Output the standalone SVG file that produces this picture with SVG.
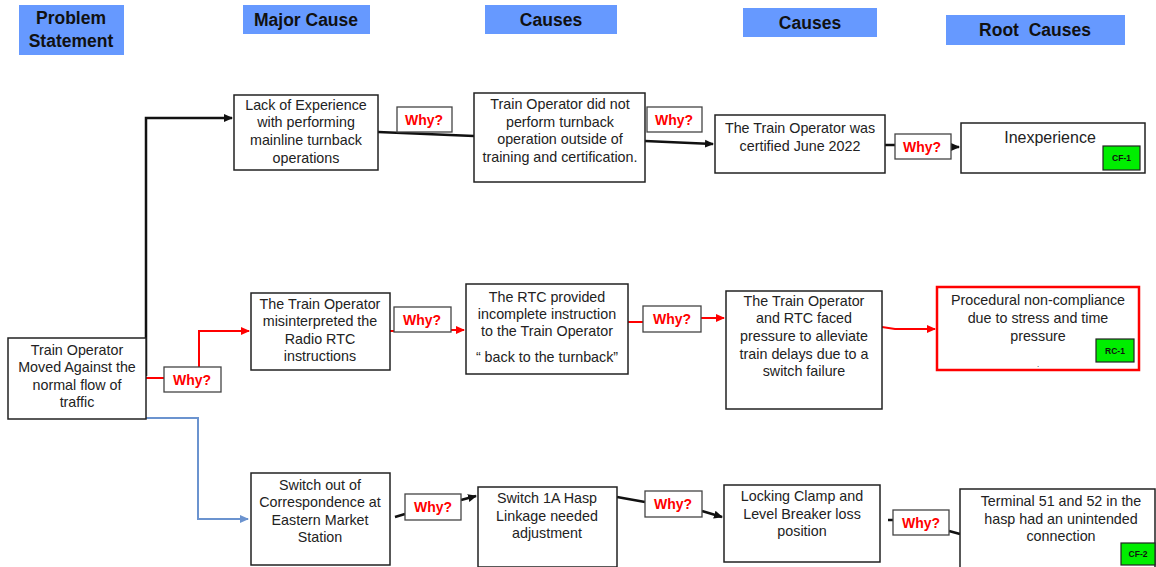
<svg xmlns="http://www.w3.org/2000/svg" width="1156" height="567" viewBox="0 0 1156 567">
  <style>
    .hdr { fill: #6699ff; }
    .hdr-t { font-family: "Liberation Sans", Arial, sans-serif; font-weight: bold; font-size: 17.5px; fill: #111; text-anchor: middle; }
    .box { fill: #fff; stroke: #222; stroke-width: 1.5; }
    .t { font-family: "Liberation Sans", Arial, sans-serif; font-size: 14.3px; fill: #222; text-anchor: middle; }
    .why { fill: #fff; stroke: #444; stroke-width: 1.3; }
    .why-t { font-family: "Liberation Sans", Arial, sans-serif; font-weight: bold; font-size: 14px; fill: #ff0000; text-anchor: middle; }
    .badge { fill: #00ee00; stroke: #222; stroke-width: 1.2; }
    .badge-t { font-family: "Liberation Sans", Arial, sans-serif; font-weight: bold; font-size: 8.5px; fill: #111; text-anchor: middle; }
    .blk { fill: none; stroke: #111; stroke-width: 2.5; }
    .red { fill: none; stroke: #ff0000; stroke-width: 2; }
    .blu { fill: none; stroke: #6b93cf; stroke-width: 2; }
  </style>
  <defs>
    <marker id="ah-blk" markerUnits="userSpaceOnUse" markerWidth="10" markerHeight="10" refX="8" refY="5" orient="auto">
      <path d="M0,1 L9,5 L0,9 Z" fill="#111"/>
    </marker>
    <marker id="ah-red" markerUnits="userSpaceOnUse" markerWidth="10" markerHeight="10" refX="8" refY="5" orient="auto">
      <path d="M0,1 L9,5 L0,9 Z" fill="#ff0000"/>
    </marker>
    <marker id="ah-blu" markerUnits="userSpaceOnUse" markerWidth="10" markerHeight="10" refX="8" refY="5" orient="auto">
      <path d="M0,1 L9,5 L0,9 Z" fill="#6b93cf"/>
    </marker>
  </defs>

  <!-- column headers -->
  <g id="headers">
    <rect class="hdr" x="19" y="5" width="105" height="50"/>
    <text class="hdr-t" x="71" y="24">Problem</text>
    <text class="hdr-t" x="71" y="47">Statement</text>
    <rect class="hdr" x="243" y="5" width="127" height="29"/>
    <text class="hdr-t" x="306" y="26">Major Cause</text>
    <rect class="hdr" x="485" y="5" width="132" height="29"/>
    <text class="hdr-t" x="551" y="26">Causes</text>
    <rect class="hdr" x="743" y="8" width="134" height="29"/>
    <text class="hdr-t" x="810" y="29">Causes</text>
    <rect class="hdr" x="946" y="15" width="179" height="30"/>
    <text class="hdr-t" x="1035" y="36" xml:space="preserve">Root  Causes</text>
  </g>

  <!-- connectors -->
  <g id="connectors">
    <path class="blk" d="M146,376 V118 H232" marker-end="url(#ah-blk)"/>
    <path class="blk" d="M378,132 L474,136"/>
    <path class="blk" d="M645,141 L713,144" marker-end="url(#ah-blk)"/>
    <path class="blk" d="M885,145 H896"/>
    <path class="blk" d="M952,147 H959" marker-end="url(#ah-blk)"/>

    <path class="red" d="M146,378 H164"/>
    <path class="red" d="M199,367 V331 H249" marker-end="url(#ah-red)"/>
    <path class="red" d="M390,331 H394"/>
    <path class="red" d="M451,330 H464" marker-end="url(#ah-red)"/>
    <path class="red" d="M628,322 H643"/>
    <path class="red" d="M701,318 H724" marker-end="url(#ah-red)"/>
    <path class="red" d="M882,327 L895,329 H935" marker-end="url(#ah-red)"/>

    <path class="blu" d="M146,418 H198 V519 H248" marker-end="url(#ah-blu)"/>

    <path class="blk" d="M395,517 L405,514"/>
    <path class="blk" d="M461,500 L476,496" marker-end="url(#ah-blk)"/>
    <path class="blk" d="M617,497 L645,502"/>
    <path class="blk" d="M702,511 L722,517" marker-end="url(#ah-blk)"/>
    <path class="blk" d="M888,520 H893"/>
    <path class="blk" d="M949,531 L960,534"/>
  </g>

  <!-- problem statement -->
  <g id="problem">
    <rect class="box" x="8" y="338" width="138" height="81"/>
    <text class="t" x="77" y="355">Train Operator</text>
    <text class="t" x="77" y="372">Moved Against the</text>
    <text class="t" x="77" y="390">normal flow of</text>
    <text class="t" x="77" y="407">traffic</text>
  </g>

  <!-- top chain -->
  <g id="lack-experience">
    <rect class="box" x="234" y="95" width="144" height="75"/>
    <text class="t" x="306" y="110">Lack of Experience</text>
    <text class="t" x="306" y="127">with performing</text>
    <text class="t" x="306" y="145">mainline turnback</text>
    <text class="t" x="306" y="163">operations</text>
  </g>
  <g id="why-1">
    <rect class="why" x="397" y="107" width="55" height="25"/>
    <text class="why-t" x="424" y="125">Why?</text>
  </g>
  <g id="no-turnback">
    <rect class="box" x="474" y="93" width="171" height="89"/>
    <text class="t" x="560" y="109">Train Operator did not</text>
    <text class="t" x="560" y="127">perform turnback</text>
    <text class="t" x="560" y="144">operation outside of</text>
    <text class="t" x="560" y="162">training and certification.</text>
  </g>
  <g id="why-2">
    <rect class="why" x="647" y="107" width="55" height="25"/>
    <text class="why-t" x="674" y="125">Why?</text>
  </g>
  <g id="certified">
    <rect class="box" x="715" y="115" width="170" height="58"/>
    <text class="t" x="800" y="133">The Train Operator was</text>
    <text class="t" x="800" y="151">certified June 2022</text>
  </g>
  <g id="why-3">
    <rect class="why" x="895" y="134" width="56" height="25"/>
    <text class="why-t" x="922" y="152">Why?</text>
  </g>
  <g id="inexperience">
    <rect class="box" x="961" y="123" width="184" height="50"/>
    <text class="t" x="1050" y="143" style="font-size:16px">Inexperience</text>
    <rect class="badge" x="1103" y="146" width="37" height="24"/>
    <text class="badge-t" x="1121.5" y="161">CF-1</text>
  </g>

  <!-- middle chain -->
  <g id="why-4">
    <rect class="why" x="164" y="367" width="57" height="25"/>
    <text class="why-t" x="192" y="385">Why?</text>
  </g>
  <g id="misinterpreted">
    <rect class="box" x="251" y="293" width="139" height="77"/>
    <text class="t" x="320" y="309">The Train Operator</text>
    <text class="t" x="320" y="326">misinterpreted the</text>
    <text class="t" x="320" y="344">Radio RTC</text>
    <text class="t" x="320" y="361">instructions</text>
  </g>
  <g id="why-5">
    <rect class="why" x="394" y="307" width="57" height="25"/>
    <text class="why-t" x="422" y="325">Why?</text>
  </g>
  <g id="incomplete-instruction">
    <rect class="box" x="466" y="284" width="162" height="90"/>
    <text class="t" x="547" y="302">The RTC provided</text>
    <text class="t" x="547" y="319">incomplete instruction</text>
    <text class="t" x="547" y="336">to the Train Operator</text>
    <text class="t" x="547" y="362">“ back to the turnback”</text>
  </g>
  <g id="why-6">
    <rect class="why" x="643" y="306" width="58" height="26"/>
    <text class="why-t" x="672" y="324">Why?</text>
  </g>
  <g id="time-pressure">
    <rect class="box" x="726" y="291" width="156" height="118"/>
    <text class="t" x="804" y="306">The Train Operator</text>
    <text class="t" x="804" y="323">and RTC faced</text>
    <text class="t" x="804" y="341">pressure to alleviate</text>
    <text class="t" x="804" y="359">train delays due to a</text>
    <text class="t" x="804" y="376">switch failure</text>
  </g>
  <g id="non-compliance">
    <rect x="937" y="287" width="202" height="83" fill="#fff" stroke="#ff0000" stroke-width="2.5"/>
    <text class="t" x="1038" y="305">Procedural non-compliance</text>
    <text class="t" x="1038" y="323">due to stress and time</text>
    <text class="t" x="1038" y="341">pressure</text>
    <text class="t" x="1038" y="367" style="font-size:8px">.</text>
    <rect class="badge" x="1096" y="339" width="38" height="23"/>
    <text class="badge-t" x="1115" y="354">RC-1</text>
  </g>

  <!-- bottom chain -->
  <g id="switch-correspondence">
    <rect class="box" x="251" y="473" width="139" height="92"/>
    <text class="t" x="320" y="490">Switch out of</text>
    <text class="t" x="320" y="507">Correspondence at</text>
    <text class="t" x="320" y="525">Eastern Market</text>
    <text class="t" x="320" y="542">Station</text>
  </g>
  <g id="why-7">
    <rect class="why" x="405" y="494" width="56" height="26"/>
    <text class="why-t" x="433" y="512">Why?</text>
  </g>
  <g id="hasp-linkage">
    <rect class="box" x="478" y="487" width="139" height="80"/>
    <text class="t" x="547" y="503">Switch 1A Hasp</text>
    <text class="t" x="547" y="521">Linkage needed</text>
    <text class="t" x="547" y="538">adjustment</text>
  </g>
  <g id="why-8">
    <rect class="why" x="645" y="491" width="57" height="26"/>
    <text class="why-t" x="673" y="509">Why?</text>
  </g>
  <g id="locking-clamp">
    <rect class="box" x="724" y="485" width="156" height="77"/>
    <text class="t" x="802" y="501">Locking Clamp and</text>
    <text class="t" x="802" y="519">Level Breaker loss</text>
    <text class="t" x="802" y="536">position</text>
  </g>
  <g id="why-9">
    <rect class="why" x="893" y="510" width="56" height="25"/>
    <text class="why-t" x="921" y="528">Why?</text>
  </g>
  <g id="terminal-connection">
    <rect class="box" x="960" y="489" width="195" height="80"/>
    <text class="t" x="1061" y="506">Terminal 51 and 52 in the</text>
    <text class="t" x="1061" y="524">hasp had an unintended</text>
    <text class="t" x="1061" y="541">connection</text>
    <rect class="badge" x="1121" y="543" width="34" height="22"/>
    <text class="badge-t" x="1138" y="557">CF-2</text>
  </g>
</svg>
